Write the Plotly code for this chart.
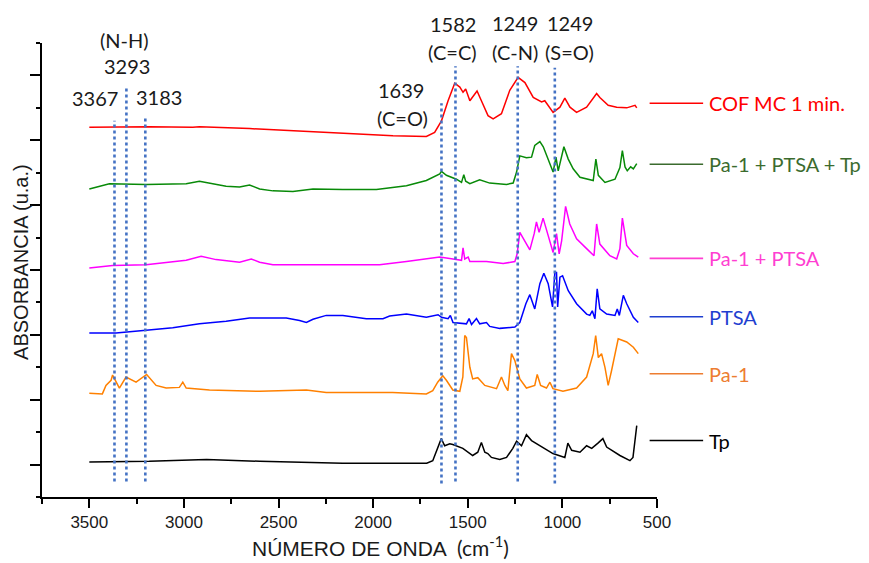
import plotly.graph_objects as go

# ---------------- data (wavenumber cm-1, absorbance a.u. incl. vertical offset) ----------------
tp_x = [3500, 3183, 2880, 2600, 2161, 1860, 1717, 1685, 1659, 1640, 1622, 1595, 1579, 1526, 1474, 1447, 1428, 1410,
        1394, 1375, 1331, 1295, 1262, 1242, 1216, 1190, 1163, 1119, 1050, 987, 971, 951, 907, 872, 845, 812, 786,
        766, 696, 643, 627, 607]
tp_y = [0.04, 0.05, 0.08, 0.05, 0.02, 0.02, 0.02, 0.06, 0.27, 0.40, 0.29, 0.32, 0.31, 0.25, 0.14, 0.19, 0.34, 0.19,
        0.17, 0.11, 0.08, 0.11, 0.25, 0.36, 0.29, 0.46, 0.37, 0.29, 0.17, 0.11, 0.33, 0.22, 0.19, 0.29, 0.25, 0.33, 0.40,
        0.27, 0.14, 0.06, 0.11, 0.60]

pa1_x = [3500, 3431, 3412, 3385, 3377, 3362, 3341, 3306, 3253, 3197, 3147, 3094, 3024, 3006, 2988, 2865, 2600, 2353,
         2248, 1897, 1719, 1685, 1659, 1632, 1613, 1579, 1542, 1526, 1516, 1507, 1489, 1474, 1447, 1410, 1348, 1322,
         1304, 1288, 1269, 1251, 1225, 1190, 1146, 1133, 1115, 1084, 1066, 1050, 997, 925, 872, 837, 824, 810, 793,
         775, 758, 740, 705, 660, 625, 599]
pa1_y = [1.10, 1.09, 1.22, 1.30, 1.38, 1.30, 1.18, 1.35, 1.27, 1.39, 1.22, 1.18, 1.19, 1.27, 1.18, 1.15, 1.13, 1.15,
         1.11, 1.11, 1.09, 1.14, 1.27, 1.37, 1.30, 1.15, 1.13, 1.35, 1.99, 1.96, 1.50, 1.32, 1.34, 1.22, 1.17, 1.35,
         1.22, 1.14, 1.71, 1.60, 1.32, 1.18, 1.22, 1.39, 1.22, 1.18, 1.27, 1.17, 1.13, 1.18, 1.35, 1.71, 1.99, 1.65, 1.71,
         1.50, 1.22, 1.45, 1.94, 1.89, 1.81, 1.71]

ptsa_x = [3500, 3359, 3200, 3059, 2918, 2777, 2653, 2459, 2389, 2353, 2318, 2248, 2160, 2036, 1948, 1913, 1824, 1754,
          1719, 1657, 1639, 1604, 1592, 1578, 1507, 1493, 1480, 1454, 1437, 1401, 1384, 1331, 1251, 1225, 1193, 1172,
          1146, 1119, 1098, 1075, 1052, 1040, 1031, 1025, 1013, 999, 969, 925, 872, 855, 842, 828, 816, 802, 766, 722,
          710, 699, 678, 660, 625, 599]
ptsa_y = [2.03, 2.03, 2.07, 2.11, 2.17, 2.21, 2.26, 2.26, 2.22, 2.19, 2.24, 2.30, 2.30, 2.25, 2.25, 2.29, 2.32, 2.29,
          2.27, 2.31, 2.27, 2.25, 2.30, 2.19, 2.17, 2.25, 2.16, 2.25, 2.17, 2.19, 2.13, 2.10, 2.12, 2.19, 2.48, 2.62,
          2.40, 2.79, 2.95, 2.79, 2.43, 2.96, 2.96, 2.43, 2.89, 2.91, 2.68, 2.48, 2.32, 2.30, 2.37, 2.25, 2.71, 2.40, 2.32,
          2.30, 2.40, 2.30, 2.61, 2.48, 2.27, 2.19]

pa1ptsa_x = [3500, 3377, 3200, 2988, 2909, 2830, 2706, 2644, 2600, 2530, 2353, 1966, 1824, 1648, 1578, 1533, 1525,
             1516, 1498, 1489, 1401, 1313, 1251, 1239, 1225, 1198, 1172, 1149, 1137, 1123, 1102, 1075, 1049, 1031,
             1017, 1004, 983, 961, 925, 872, 833, 819, 802, 749, 713, 696, 683, 660, 625, 599]
pa1ptsa_y = [3.03, 3.07, 3.08, 3.15, 3.21, 3.16, 3.12, 3.17, 3.12, 3.08, 3.08, 3.08, 3.13, 3.20, 3.17, 3.15, 3.34,
             3.17, 3.20, 3.13, 3.13, 3.10, 3.13, 3.25, 3.58, 3.45, 3.31, 3.56, 3.74, 3.58, 3.80, 3.53, 3.27, 3.56,
             3.25, 3.45, 3.98, 3.71, 3.48, 3.33, 3.22, 3.71, 3.40, 3.22, 3.17, 3.33, 3.80, 3.38, 3.25, 3.20]

mix_x = [3500, 3394, 3200, 2988, 2918, 2848, 2777, 2706, 2653, 2600, 2530, 2424, 2318, 2160, 1983, 1824, 1719, 1648,
         1639, 1613, 1560, 1533, 1521, 1511, 1489, 1437, 1384, 1295, 1260, 1242, 1225, 1190, 1163, 1146, 1119, 1101,
         1075, 1049, 1034, 1022, 1013, 992, 969, 943, 907, 837, 823, 810, 775, 722, 696, 683, 669, 657, 639, 625, 607]
mix_y = [4.25, 4.33, 4.32, 4.33, 4.37, 4.33, 4.29, 4.28, 4.31, 4.25, 4.22, 4.21, 4.25, 4.24, 4.24, 4.30, 4.38, 4.48,
         4.52, 4.46, 4.40, 4.35, 4.47, 4.37, 4.33, 4.39, 4.34, 4.32, 4.34, 4.51, 4.76, 4.73, 4.74, 4.92, 4.98, 4.90,
         4.69, 4.51, 4.74, 4.53, 4.64, 4.90, 4.71, 4.56, 4.43, 4.38, 4.71, 4.46, 4.35, 4.40, 4.58, 4.84, 4.59, 4.53, 4.59,
         4.56, 4.64]

cof_x = [3500, 3183, 2953, 2918, 2653, 2389, 2071, 1895, 1719, 1675, 1639, 1604, 1569, 1542, 1525, 1511, 1489, 1463,
         1451, 1428, 1393, 1366, 1322, 1278, 1234, 1198, 1154, 1110, 1093, 1049, 1013, 987, 960, 925, 872, 819, 802,
         758, 713, 660, 616, 607]
cof_y = [5.20, 5.21, 5.20, 5.21, 5.18, 5.14, 5.10, 5.07, 5.06, 5.12, 5.30, 5.61, 5.88, 5.82, 5.74, 5.79, 5.61, 5.72,
         5.76, 5.61, 5.38, 5.33, 5.41, 5.77, 5.97, 5.89, 5.66, 5.59, 5.61, 5.43, 5.51, 5.65, 5.51, 5.43, 5.51, 5.72, 5.66,
         5.54, 5.51, 5.50, 5.54, 5.50]

series_names = ["Tp", "Pa-1", "PTSA", "Pa-1 + PTSA", "Pa-1 + PTSA + Tp", "COF MC 1 min."]
series_x = [tp_x, pa1_x, ptsa_x, pa1ptsa_x, mix_x, cof_x]
series_y = [tp_y, pa1_y, ptsa_y, pa1ptsa_y, mix_y, cof_y]
curve_colors = ["#000000", "#FF8000", "#0000FF", "#FF00FF", "#088A08", "#FF0000"]
label_colors = ["#000000", "#ED7D31", "#1F3FD0", "#FF3FD2", "#3B6B2E", "#FF0000"]
label_levels = [0.37, 1.40, 2.28, 3.18, 4.63, 5.57]

# band marker lines (wavenumber, top, bottom) and labels
band_pos = [3367, 3304, 3204, 1639, 1565, 1236, 1040]
band_top = [5.30, 5.80, 5.35, 5.57, 6.14, 6.14, 6.12]
band_bottom = [-0.26, -0.26, -0.26, -0.29, -0.26, -0.26, -0.29]
band_texts = ["(N-H)", "3293", "3367", "3183", "1639", "(C=O)", "1582", "(C=C)", "1249", "(C-N)", "1249", "(S=O)"]
band_text_x = [3315, 3299, 3468, 3130, 1855, 1844, 1579, 1579, 1251, 1251, 960, 960]
# vertical position as fraction of plot height (labels sit partly above the plotting area)
band_text_frac = [1.007, 0.950, 0.879, 0.881, 0.896, 0.834, 1.042, 0.980, 1.044, 0.980, 1.044, 0.980]

x_ticks = [3500, 3000, 2500, 2000, 1500, 1000, 500]

fig = go.Figure()
for nm, xs, ys, c in zip(series_names, series_x, series_y, curve_colors):
    fig.add_trace(go.Scatter(x=xs, y=ys, mode="lines", name=nm, showlegend=False,
                             line=dict(color=c, width=1.5), hoverinfo="skip"))

for bx, bt, bb in zip(band_pos, band_top, band_bottom):
    fig.add_shape(type="line", xref="x", yref="y", x0=bx, x1=bx, y0=bb, y1=bt,
                  line=dict(color="#4472C4", width=2.6, dash="dot"))

annotations = []
for t, tx, ty in zip(band_texts, band_text_x, band_text_frac):
    annotations.append(dict(x=tx, y=ty, xref="x", yref="paper", text=t, showarrow=False,
                            font=dict(family="Lato", size=20, color="#1a1a1a"),
                            xanchor="center", yanchor="middle"))

for nm, lvl, lc in zip(series_names, label_levels, label_colors):
    fig.add_shape(type="line", xref="paper", yref="y", x0=0.988, x1=1.075, y0=lvl, y1=lvl,
                  line=dict(color=lc, width=1.6))
    annotations.append(dict(x=1.081, y=lvl, xref="paper", yref="y", text=nm, showarrow=False,
                            font=dict(family="Lato", size=20, color=lc),
                            xanchor="left", yanchor="middle"))

annotations.append(dict(x=0.551, y=-0.108, xref="paper", yref="paper",
                        text="NÚMERO DE ONDA <span style='font-family:Lato'> (cm<sup>-1</sup>)</span>",
                        showarrow=False, font=dict(family="Liberation Sans", size=21, color="#1a1a1a"),
                        xanchor="center", yanchor="middle"))
annotations.append(dict(x=-0.034, y=0.518, xref="paper", yref="paper", text="ABSORBANCIA (u.a.)",
                        textangle=-90, showarrow=False,
                        font=dict(family="Liberation Sans", size=20, color="#1a1a1a"),
                        xanchor="center", yanchor="middle"))

fig.update_layout(
    width=869, height=563,
    margin=dict(l=42, r=212, t=43, b=66),
    paper_bgcolor="white", plot_bgcolor="white",
    annotations=annotations,
    xaxis=dict(range=[3750, 500], tickvals=x_ticks, ticks="outside", ticklen=9, tickwidth=1.5,
               tickcolor="black", showline=True, linecolor="black", linewidth=1.8, showgrid=False,
               zeroline=False, tickfont=dict(family="Liberation Sans", size=17, color="#1a1a1a"),
               minor=dict(dtick=250, tick0=500, ticks="outside", ticklen=5, tickwidth=1.5, tickcolor="black",
                          showgrid=False)),
    yaxis=dict(range=[-0.5, 6.5], tick0=0, dtick=1, ticks="outside", ticklen=10, tickwidth=1.5,
               tickcolor="black", showticklabels=False, showline=True, linecolor="black", linewidth=1.8,
               showgrid=False, zeroline=False,
               minor=dict(dtick=0.5, tick0=0, ticks="outside", ticklen=4, tickwidth=1.5, tickcolor="black",
                          showgrid=False)),
)

fig.write_html("out.html")
